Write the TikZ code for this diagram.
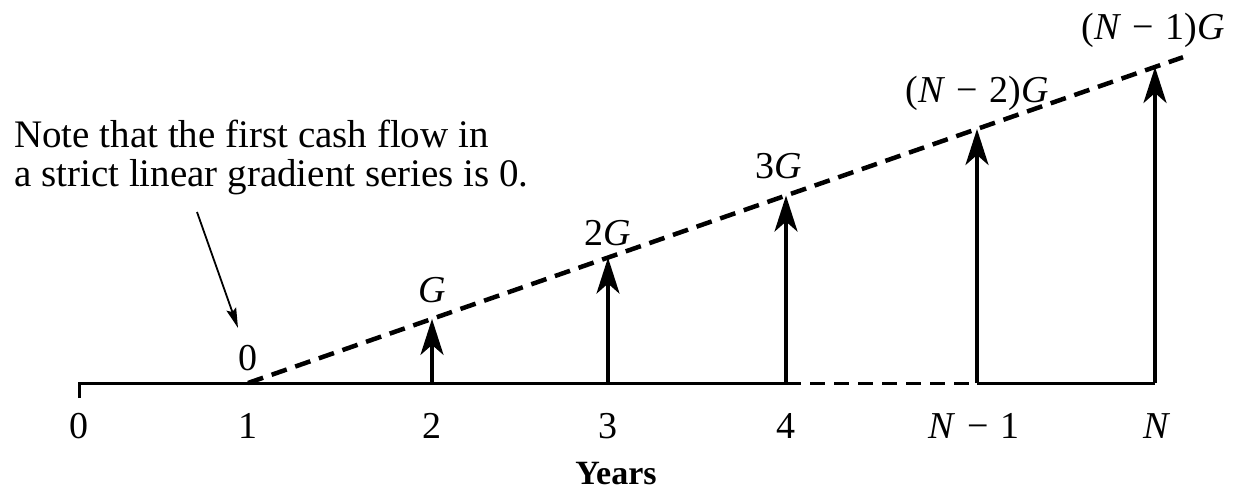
\documentclass[tikz,border=0pt]{standalone}
\usepackage{fontspec}
\setmainfont{Liberation Serif}
\usetikzlibrary{arrows.meta}
\newcommand{\mminus}{\hspace{0.3em}−\hspace{0.3em}}
\begin{document}
\begin{tikzpicture}[x=1pt,y=-1pt,
  lbl/.style={font=\fontsize{38}{42}\selectfont, inner sep=0pt, anchor=base},
  axisline/.style={line width=3pt},
  flow/.style={line width=3.6pt, -{Stealth[length=36pt,width=23pt,inset=10pt]}},
  trend/.style={line width=4.5pt, dash pattern=on 16pt off 9pt},
  pointer/.style={line width=1.8pt, -{Stealth[length=20pt,width=10pt,inset=3pt]}}]
\useasboundingbox (0,0) rectangle (1234,489);
% axis points
\coordinate (t0d) at (79,398);
\coordinate (t0) at (79,383);
\coordinate (t1) at (248,383);
\coordinate (t2) at (432,383);
\coordinate (t3) at (608,383);
\coordinate (t4) at (786,383);
\coordinate (t5) at (977,383);
\coordinate (t6) at (1155,383);
% arrow tops on the gradient line
\coordinate (a2) at (432,318.9);
\coordinate (a3) at (608,257.6);
\coordinate (a4) at (786,195.6);
\coordinate (a5) at (977,129.0);
\coordinate (a6) at (1155,67.0);
\coordinate (gend) at (1183,57.2);
% axis
\draw[axisline] (t0d) -- (t0) -- (t4);
\draw[axisline, dash pattern=on 15pt off 9pt] (t4) -- (t5);
\draw[axisline] (t5) -- (t6);
% gradient line
\draw[trend] (t1) -- (gend);
% cash flow arrows
\draw[flow] (t2) -- (a2);
\draw[flow] (t3) -- (a3);
\draw[flow] (t4) -- (a4);
\draw[flow] (t5) -- (a5);
\draw[flow] (t6) -- (a6);
% tick labels
\node[lbl] (l0) at (79,438) {0};
\node[lbl] (l1) at (248,438) {1};
\node[lbl] (l2) at (432,438) {2};
\node[lbl] (l3) at (608,438) {3};
\node[lbl] (l4) at (786,438) {4};
\node[lbl] (l5) at (974,438) {\textit{N}\mminus1};
\node[lbl] (l6) at (1157,438) {\textit{N}};
\node[inner sep=0pt, anchor=base, font=\fontsize{34}{37}\selectfont\bfseries] (years) at (616,484) {Years};
% flow labels
\node[lbl] (v1) at (248,370) {0};
\node[lbl] (v2) at (432,302) {\textit{G}};
\node[lbl] (v3) at (608,245.5) {2\textit{G}};
\node[lbl] (v4) at (779,179) {3\textit{G}};
\node[lbl] (v5) at (977,103) {(\textit{N}\mminus2)\textit{G}};
\node[lbl] (v6) at (1153,40) {(\textit{N}\mminus1)\textit{G}};
% note
\node[font=\fontsize{39}{38.5}\selectfont, inner sep=0pt, anchor=north west, align=left] (note) at (14,120)
  {Note that the first cash flow in\\a strict linear gradient series is 0.};
\coordinate (pstart) at (197,212);
\coordinate (pend) at (238,328);
\draw[pointer] (pstart) -- (pend);
\end{tikzpicture}
\end{document}
